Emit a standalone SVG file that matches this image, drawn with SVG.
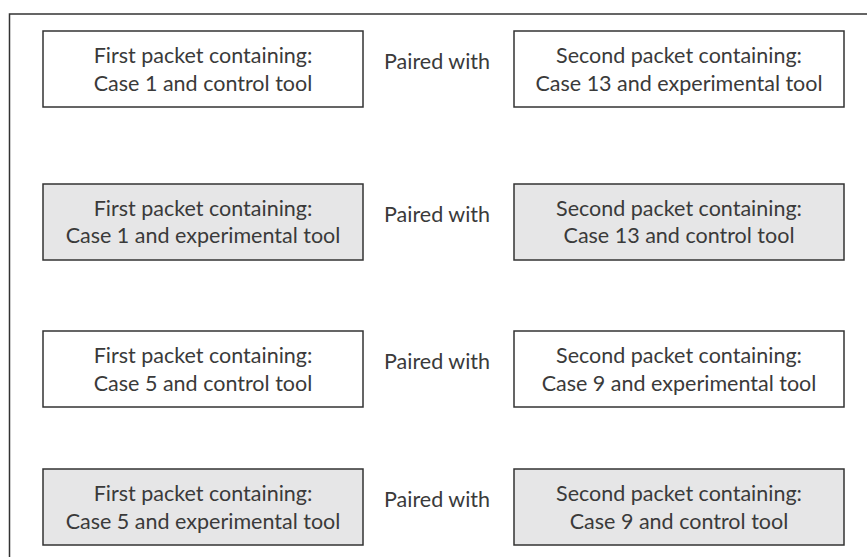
<svg xmlns="http://www.w3.org/2000/svg" width="867" height="557" viewBox="0 0 867 557">
<style>
.frame{fill:none;stroke:#333;stroke-width:1.5}
.box{stroke:#333;stroke-width:1.5}
.w{fill:#fff}
.g{fill:#e6e6e7}
text{font-family:Lato,"Open Sans","Liberation Sans",sans-serif;font-size:21.5px;fill:#3a3a3a;text-anchor:middle}
</style>
<rect width="867" height="557" fill="#fff"/>
<path class="frame" d="M9.5,557 V14 H867"/>
<g id="connectors"></g>
<g id="r1l"><rect class="box w" x="43" y="31" width="320" height="76"/><text x="203" y="63">First packet containing:</text><text x="203" y="91">Case 1 and control tool</text></g>
<g id="r1p"><text x="437" y="69">Paired with</text></g>
<g id="r1r"><rect class="box w" x="514" y="31" width="330" height="76"/><text x="679" y="63">Second packet containing:</text><text x="679" y="91">Case 13 and experimental tool</text></g>
<g id="r2l"><rect class="box g" x="43" y="184" width="320" height="76"/><text x="203" y="216">First packet containing:</text><text x="203" y="243">Case 1 and experimental tool</text></g>
<g id="r2p"><text x="437" y="222">Paired with</text></g>
<g id="r2r"><rect class="box g" x="514" y="184" width="330" height="76"/><text x="679" y="216">Second packet containing:</text><text x="679" y="243">Case 13 and control tool</text></g>
<g id="r3l"><rect class="box w" x="43" y="331" width="320" height="76"/><text x="203" y="363">First packet containing:</text><text x="203" y="391">Case 5 and control tool</text></g>
<g id="r3p"><text x="437" y="369">Paired with</text></g>
<g id="r3r"><rect class="box w" x="514" y="331" width="330" height="76"/><text x="679" y="363">Second packet containing:</text><text x="679" y="391">Case 9 and experimental tool</text></g>
<g id="r4l"><rect class="box g" x="43" y="469" width="320" height="76"/><text x="203" y="501">First packet containing:</text><text x="203" y="529">Case 5 and experimental tool</text></g>
<g id="r4p"><text x="437" y="507">Paired with</text></g>
<g id="r4r"><rect class="box g" x="514" y="469" width="330" height="76"/><text x="679" y="501">Second packet containing:</text><text x="679" y="529">Case 9 and control tool</text></g>
</svg>
